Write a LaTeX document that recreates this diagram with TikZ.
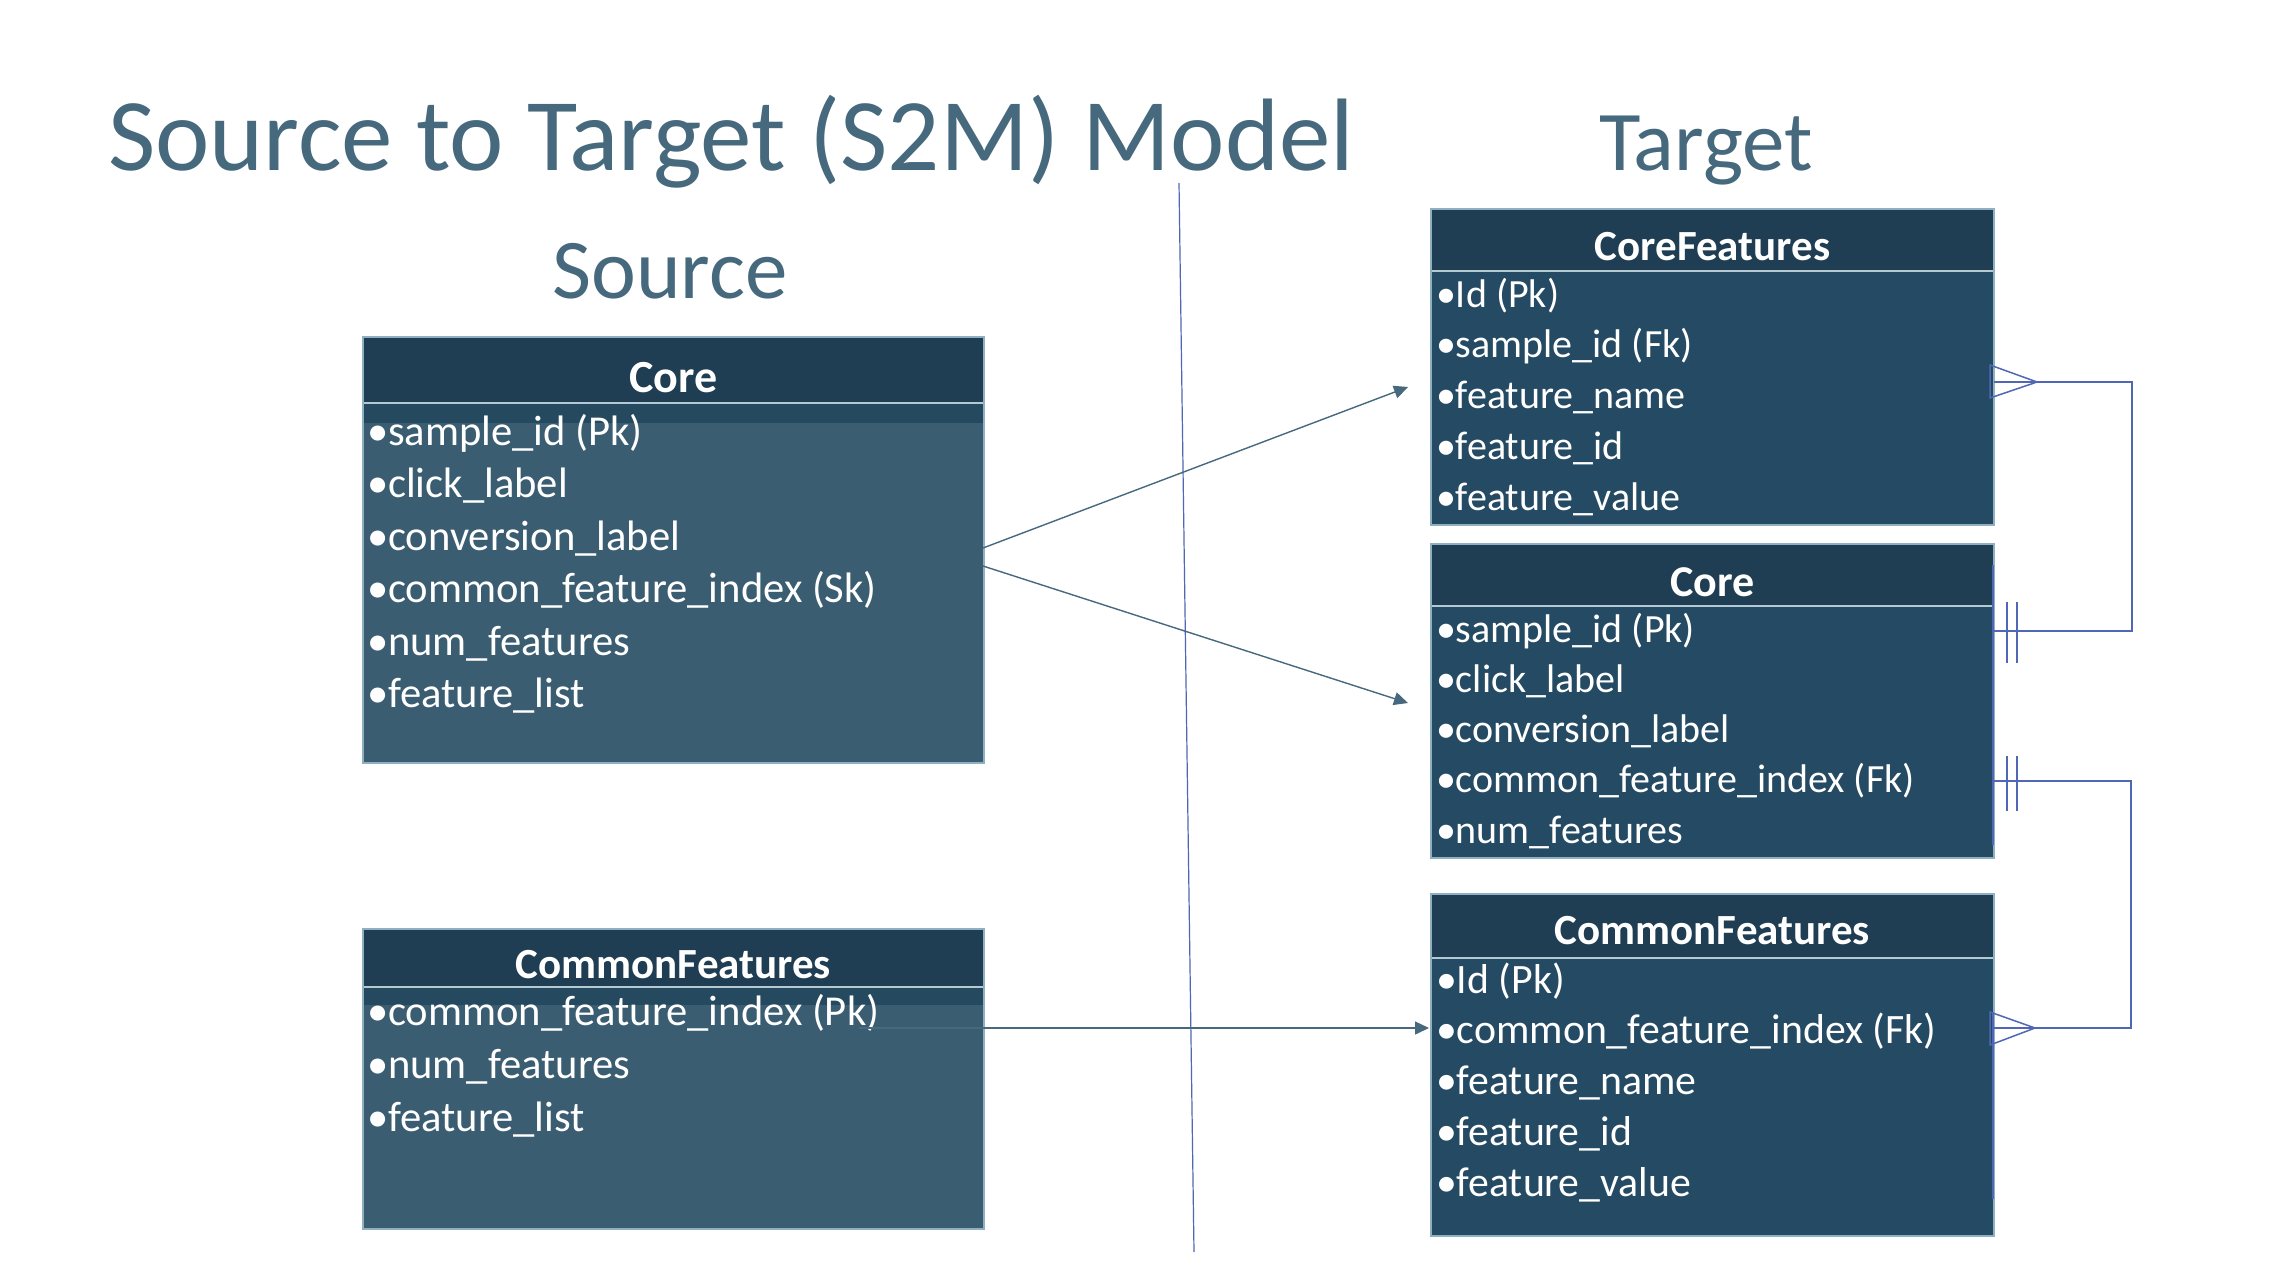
\documentclass[tikz,border=0pt]{standalone}
\usepackage{fontspec}
\setmainfont{Carlito}
\usetikzlibrary{arrows.meta,calc}
\definecolor{titlecol}{HTML}{46697D}
\definecolor{hdr}{HTML}{1F3D53}
\definecolor{srcbody}{HTML}{3B5D71}
\definecolor{srcband}{HTML}{25495F}
\definecolor{tgtbody}{HTML}{254A63}
\definecolor{bordercol}{HTML}{8FB0C0}
\definecolor{sepcol}{HTML}{B5C9D3}
\definecolor{arrowcol}{HTML}{46697D}
\definecolor{relblue}{HTML}{4F67B5}
\begin{document}
\begin{tikzpicture}[x=0.5pt,y=-0.5pt,
  every node/.style={inner sep=0pt, outer sep=0pt},
  tbox/.style={draw=bordercol, line width=0.6pt, rectangle},
  sepline/.style={draw=sepcol, line width=0.6pt},
  bigtxt/.style={text=titlecol, font=\fontsize{42.5}{50}\selectfont, anchor=base},
  hdrtxt/.style={anchor=base, text=white, font=\fontsize{21.5}{26}\selectfont\bfseries},
  rowtxt/.style={anchor=base west, text=white, font=\fontsize{21.3}{25}\selectfont},
  trowtxt/.style={anchor=base west, text=white, font=\fontsize{20}{24}\selectfont},
  arr/.style={draw=arrowcol, line width=0.7pt, -{Triangle[length=7pt,width=6.5pt]}},
  rel/.style={draw=relblue, line width=0.75pt},
  divider/.style={draw=relblue, line width=0.6pt},
]
\useasboundingbox[fill=white] (0,0) rectangle (2276,1280);

% titles
\node[anchor=base west, text=titlecol, font=\fontsize{51.5}{60}\selectfont] (title) at (108,170) {Source to Target (S2M) Model};
\node[bigtxt] (srclbl) at (670,298) {Source};
\node[bigtxt] (tgtlbl) at (1706,170) {Target};

% divider
\coordinate (divtop) at (1179,183);
\coordinate (divbot) at (1194,1252);
\draw[divider] (divtop) -- (divbot);

% ---------- Source Core ----------
\fill[srcbody] (363,337) rectangle (984,763);
\fill[srcband] (363,403) rectangle (984,423);
\fill[hdr] (363,337) rectangle (984,403);
\draw[sepline] (363,403) -- (984,403);
\node[tbox, minimum width=310.5pt, minimum height=213pt] (srccore) at (673.5,550) {};
\node[hdrtxt, font=\fontsize{23}{27}\selectfont\bfseries] (srccoreh) at (673.5,392) {Core};
\node[rowtxt] (sc1) at (367,445) {•sample\_id (Pk)};
\node[rowtxt] (sc2) at (367,497.5) {•click\_label};
\node[rowtxt] (sc3) at (367,550) {•conversion\_label};
\node[rowtxt] (sc4) at (367,602.5) {•common\_feature\_index (Sk)};
\node[rowtxt] (sc5) at (367,655) {•num\_features};
\node[rowtxt] (sc6) at (367,707.5) {•feature\_list};

% ---------- Source CommonFeatures ----------
\fill[srcbody] (363,929) rectangle (984,1229);
\fill[srcband] (363,987) rectangle (984,1005);
\fill[hdr] (363,929) rectangle (984,987);
\draw[sepline] (363,987) -- (984,987);
\node[tbox, minimum width=310.5pt, minimum height=150pt] (srccf) at (673.5,1079) {};
\node[hdrtxt] (srccfh) at (673.5,978) {CommonFeatures};
\node[rowtxt] (sf1) at (367,1025) {•common\_feature\_index (Pk)};
\node[rowtxt] (sf2) at (367,1078) {•num\_features};
\node[rowtxt] (sf3) at (367,1131) {•feature\_list};

% ---------- Target CoreFeatures ----------
\fill[tgtbody] (1431,209) rectangle (1994,525);
\fill[hdr] (1431,209) rectangle (1994,271);
\draw[sepline] (1431,271) -- (1994,271);
\node[tbox, minimum width=281.5pt, minimum height=158pt] (tcf) at (1712.5,367) {};
\node[hdrtxt] (tcfh) at (1712.5,260) {CoreFeatures};
\node[trowtxt] (tf1) at (1436,307) {•Id (Pk)};
\node[trowtxt] (tf2) at (1436,357.75) {•sample\_id (Fk)};
\node[trowtxt] (tf3) at (1436,408.5) {•feature\_name};
\node[trowtxt] (tf4) at (1436,459.25) {•feature\_id};
\node[trowtxt] (tf5) at (1436,510) {•feature\_value};

% ---------- Target Core ----------
\fill[tgtbody] (1431,544) rectangle (1994,858);
\fill[hdr] (1431,544) rectangle (1994,606);
\draw[sepline] (1431,606) -- (1994,606);
\node[tbox, minimum width=281.5pt, minimum height=157pt] (tcore) at (1712.5,701) {};
\node[hdrtxt, font=\fontsize{22}{26}\selectfont\bfseries] (tcoreh) at (1712.5,596) {Core};
\node[trowtxt] (tc1) at (1436,642) {•sample\_id (Pk)};
\node[trowtxt] (tc2) at (1436,692.25) {•click\_label};
\node[trowtxt] (tc3) at (1436,742.5) {•conversion\_label};
\node[trowtxt] (tc4) at (1436,792.75) {•common\_feature\_index (Fk)};
\node[trowtxt] (tc5) at (1436,843) {•num\_features};

% ---------- Target CommonFeatures ----------
\fill[tgtbody] (1431,894) rectangle (1994,1236);
\fill[hdr] (1431,894) rectangle (1994,958);
\draw[sepline] (1431,958) -- (1994,958);
\node[tbox, minimum width=281.5pt, minimum height=171pt] (tcomm) at (1712.5,1065) {};
\node[hdrtxt] (tcommh) at (1712.5,944) {CommonFeatures};
\node[trowtxt, font=\fontsize{20.9}{24}\selectfont] (tm1) at (1436,993) {•Id (Pk)};
\node[trowtxt, font=\fontsize{20.9}{24}\selectfont] (tm2) at (1436,1043.75) {•common\_feature\_index (Fk)};
\node[trowtxt, font=\fontsize{20.9}{24}\selectfont] (tm3) at (1436,1094.5) {•feature\_name};
\node[trowtxt, font=\fontsize{20.9}{24}\selectfont] (tm4) at (1436,1145.25) {•feature\_id};
\node[trowtxt, font=\fontsize{20.9}{24}\selectfont] (tm5) at (1436,1196) {•feature\_value};

% ---------- mapping arrows ----------
\coordinate (a1s) at (983,548);
\coordinate (a1e) at (1408,387);
\coordinate (a2s) at (983,566);
\coordinate (a2e) at (1408,703);
\coordinate (a3s) at (859,1028);
\coordinate (a3e) at (1429,1028);
\draw[arr] (a1s) -- (a1e);
\draw[arr] (a2s) -- (a2e);
\draw[arr] (a3s) -- (a3e);

% ---------- relationships ----------
\coordinate (cfR) at (1994,382);
\coordinate (coreR1) at (1994,631);
\coordinate (coreR2) at (1994,781);
\coordinate (cmR) at (1994,1028);
% CoreFeatures (many) -- Core (one)
\draw[rel] (cfR) -- ++(138,0) |- (coreR1);
\draw[rel] ($(cfR)+(-4,-17)$) -- ($(cfR)+(43,0)$) -- ($(cfR)+(-4,16)$) -- cycle;
\draw[rel] ($(coreR1)+(13,-29)$) -- ++(0,61);
\draw[rel] ($(coreR1)+(23,-29)$) -- ++(0,61);
\draw[rel] (1993,565) -- (1993,845);
% Core (one) -- CommonFeatures (many)
\draw[rel] (coreR2) -- ++(137,0) |- (cmR);
\draw[rel] ($(cmR)+(-4,-16)$) -- ($(cmR)+(41,0)$) -- ($(cmR)+(-4,17)$) -- cycle;
\draw[rel] ($(coreR2)+(13,-25)$) -- ++(0,55);
\draw[rel] ($(coreR2)+(23,-25)$) -- ++(0,55);
\draw[rel] (1993,1012) -- (1993,1199);
\end{tikzpicture}
\end{document}
